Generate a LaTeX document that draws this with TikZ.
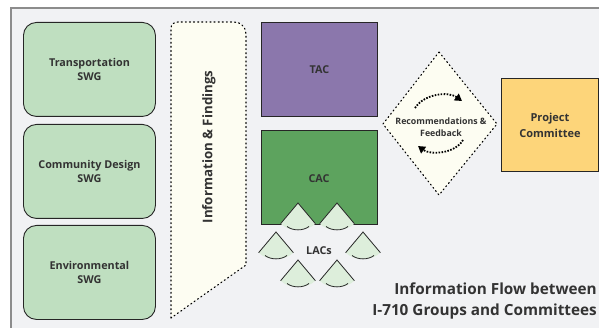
\documentclass[tikz,border=0pt]{standalone}
\usepackage{fontspec}
\setmainfont{Open Sans}
\usetikzlibrary{arrows.meta,calc}
\definecolor{bgc}{HTML}{F1F2F4}
\definecolor{swg}{HTML}{BFDFC0}
\definecolor{tacc}{HTML}{8B77AC}
\definecolor{cacc}{HTML}{5DA35E}
\definecolor{pcc}{HTML}{FDD57A}
\definecolor{cream}{HTML}{FDFDF2}
\definecolor{lacc}{HTML}{DDEEDB}
\definecolor{txt}{HTML}{333333}
\tikzset{
  lbl/.style={font=\bfseries\fontsize{10.8}{14}\selectfont, text=txt, align=center},
  swgbox/.style={draw=black!85, line width=0.9pt, fill=swg, rounded corners=13pt, minimum width=132pt, minimum height=94pt, lbl, anchor=north west, inner sep=0pt},
  sqbox/.style={draw=black!85, line width=0.9pt, minimum width=116pt, minimum height=94pt, lbl, anchor=north west, inner sep=0pt},
  dotline/.style={line width=1.1pt, dash pattern=on 1.1pt off 3pt, line cap=round},
  flowarrow/.style={line width=1.8pt, dash pattern=on 1.6pt off 1.4pt, -{Triangle[length=7pt,width=8pt]}},
  lacfill/.style={fill=lacc},
  lacline/.style={draw=black!85, line width=0.8pt}
}
\newcommand{\lacshape}[2]{%
  \coordinate (#1) at #2;
  \fill[lacfill] (#1) -- ++(-17.4,20.7) .. controls ++(8.4,8.4) and ++(-8.4,8.4) .. ++(34.8,0) -- cycle;
  \draw[lacline] ($(#1)+(-17.4,20.7)$) -- (#1) -- ($(#1)+(17.4,20.7)$);
  \draw[lacline] ($(#1)+(-11,23.5)$) .. controls ($(#1)+(-5,28)$) and ($(#1)+(5,28)$) .. ($(#1)+(11,23.5)$);
}
\begin{document}
\begin{tikzpicture}[x=1pt,y=-1pt]
\useasboundingbox (0,0) rectangle (599,328);
\fill[white] (0,0) rectangle (599,328);
\fill[bgc] (11,8) rectangle (599,328);
\draw[black!45, line width=1.2pt] (11,328) -- (11,8) -- (599,8);
% SWG boxes
\node[swgbox] (tswg) at (23,22) {Transportation\\SWG};
\node[swgbox] (cswg) at (23,124) {Community Design\\SWG};
\node[swgbox] (eswg) at (23,225) {Environmental\\SWG};
% Information & Findings
\fill[cream] (171,318) -- (171,28) to[out=90,in=180] (178,22) -- (234,22) to[out=0,in=90] (246,34) -- (246,265) -- cycle;
\draw[dotline] (171,318) -- (171,28) to[out=90,in=180] (178,22) -- (234,22) to[out=0,in=90] (246,34) -- (246,265) -- cycle;
\node[rotate=90, font=\bfseries\fontsize{13.3}{15}\selectfont, text=txt] (info) at (209,147) {Information \& Findings};
% TAC and CAC
\node[sqbox, fill=tacc] (tac) at (261,22) {TAC};
\node[sqbox, fill=cacc] (cac) at (261,130) {};
\node[lbl] (caclabel) at (319,179) {CAC};
% LACs
\lacshape{l1}{(298,203)}
\lacshape{l2}{(337,203)}
\lacshape{l3}{(276,232)}
\lacshape{l4}{(363,232)}
\lacshape{l5}{(298,260)}
\lacshape{l6}{(337,260)}
\node[lbl] (lacs) at (319,251) {LACs};
% Diamond
\coordinate (dt) at (439,52);
\coordinate (dr) at (497,124);
\coordinate (db) at (439,195);
\coordinate (dl) at (383,124);
\fill[cream] (dt) -- (dr) -- (db) -- (dl) -- cycle;
\draw[dotline] (dt) -- (dr) -- (db) -- (dl) -- cycle;
\node[font=\bfseries\fontsize{8.8}{12.5}\selectfont, text=txt, align=center] (rec) at (441,127) {Recommendations \&\\Feedback};
\coordinate (a1s) at (415,108);
\coordinate (a1e) at (462,101);
\coordinate (a2s) at (463,140);
\coordinate (a2e) at (418,146);
\draw[flowarrow] (a1s) .. controls (424,94) and (448,91) .. (a1e);
\draw[flowarrow] (a2s) .. controls (455,154) and (430,155) .. (a2e);
% Project Committee
\node[sqbox, fill=pcc, minimum width=97pt, minimum height=93pt, font=\bfseries\fontsize{11}{16}\selectfont] (pc) at (501,78) {Project\\Committee};
% Title
\node[font=\bfseries\fontsize{15.3}{21}\selectfont, text=txt, align=right, anchor=south east, inner sep=0pt] (title) at (597,319) {Information Flow between\\I-710 Groups and Committees};
\end{tikzpicture}
\end{document}
